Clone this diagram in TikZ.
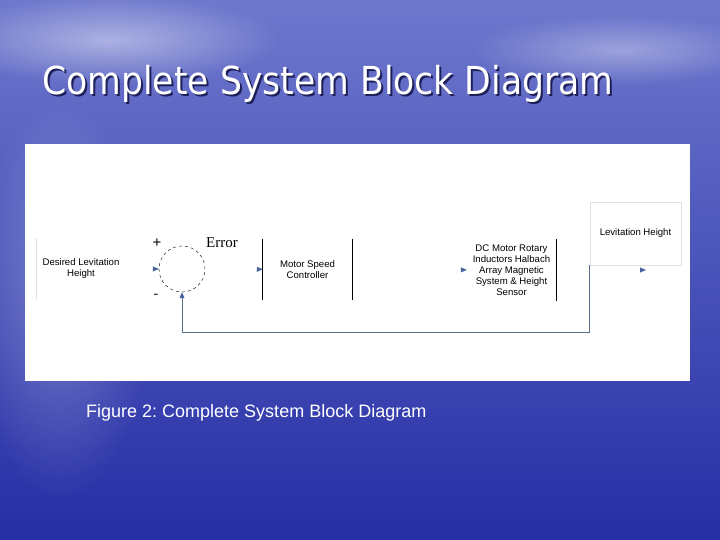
\documentclass[tikz,border=0pt]{standalone}
\usepackage{fontspec}
\setmainfont{Liberation Sans}
\newfontfamily\titlefont{DejaVu Sans Condensed}
\newfontfamily\errfont{Liberation Serif}
\usetikzlibrary{arrows.meta, positioning, fadings}
\frenchspacing

\definecolor{skytop}{RGB}{110,120,205}
\definecolor{skymid}{RGB}{62,72,180}
\definecolor{skybot}{RGB}{38,46,165}
\definecolor{tipblue}{RGB}{70,100,160}
\definecolor{fbline}{RGB}{90,110,140}
\definecolor{titleshadow}{RGB}{30,32,90}

\tikzfading[name=cloudfade, inner color=transparent!0, outer color=transparent!100]

\newcommand{\shadowtext}[1]{\rlap{\kern2pt\raisebox{-2pt}{\textcolor{titleshadow}{#1}}}#1}

\begin{document}
\begin{tikzpicture}[
    x=1pt, y=-1pt,
    every node/.style={font=\fontsize{9.6}{11}\selectfont, inner sep=0pt},
    block/.style={minimum width=89pt, minimum height=61pt, align=center},
    side/.style={draw=black, line width=0.8pt},
    faint/.style={draw=black!12, line width=0.6pt},
    hidden/.style={draw=white, -{Triangle[length=6pt, width=5pt, color=tipblue]}},
    feedback/.style={draw=fbline, line width=0.9pt, -{Triangle[length=6pt, width=5pt, color=tipblue]}}
]
\useasboundingbox (0,0) rectangle (720,540);

% Background
\shade[top color=skytop, middle color=skymid, bottom color=skybot] (0,0) rectangle (720,540);
\fill[white, opacity=0.45, path fading=cloudfade] (110,40) ellipse (170pt and 45pt);
\fill[white, opacity=0.35, path fading=cloudfade] (620,50) ellipse (150pt and 35pt);
\fill[white, opacity=0.25, path fading=cloudfade] (60,300) ellipse (90pt and 200pt);

% Title
\node[font=\titlefont\fontsize{38.5}{38.5}\selectfont, text=white, anchor=base west] (title) at (42,95) {\shadowtext{Complete System Block Diagram}};

% Panel
\node[fill=white, minimum width=665pt, minimum height=237pt, anchor=north west] (panel) at (25,144) {};

% Nodes
\node[block] (desired) at (81,269) {Desired Levitation\\Height};
\node[circle, draw, dashed, minimum size=46pt] (sum) at (182,269) {};
\node[font=\fontsize{15}{15}\selectfont] (plus) at (157,243) {+};
\node[font=\fontsize{14}{14}\selectfont] (minus) at (156,296) {-};
\node[font=\errfont\fontsize{15}{15}\selectfont] (err) at (222,243) {Error};
\node[block] (ctrl) at (307.5,269.5) {Motor Speed\\Controller};
\node[block] (plant) at (511.5,270) {DC Motor Rotary\\Inductors Halbach\\Array Magnetic\\System \& Height\\Sensor};
\node[block, draw=black!12, minimum width=91pt, minimum height=63pt] (output) at (635.5,233.5) {Levitation Height};
\coordinate (outend) at (646,270);

% Arrows
\draw[hidden] (desired) -- (sum);
\draw[hidden] (sum) -- (ctrl);
\draw[hidden] (ctrl) -- (plant);
\draw[hidden] (plant) -- (outend);
\draw[feedback] (output.south west) -- ++(0,67) -| (sum.south);

% Block sides
\draw[faint] (desired.north west) -- (desired.south west);
\draw[side] (ctrl.north west) -- (ctrl.south west);
\draw[side] (ctrl.north east) -- (ctrl.south east);
\draw[side] (plant.north east) -- (plant.south east);

% Caption
\node[font=\fontsize{18}{18}\selectfont, text=white, anchor=base west] (caption) at (86,417) {Figure 2: Complete System Block Diagram};

\end{tikzpicture}
\end{document}
